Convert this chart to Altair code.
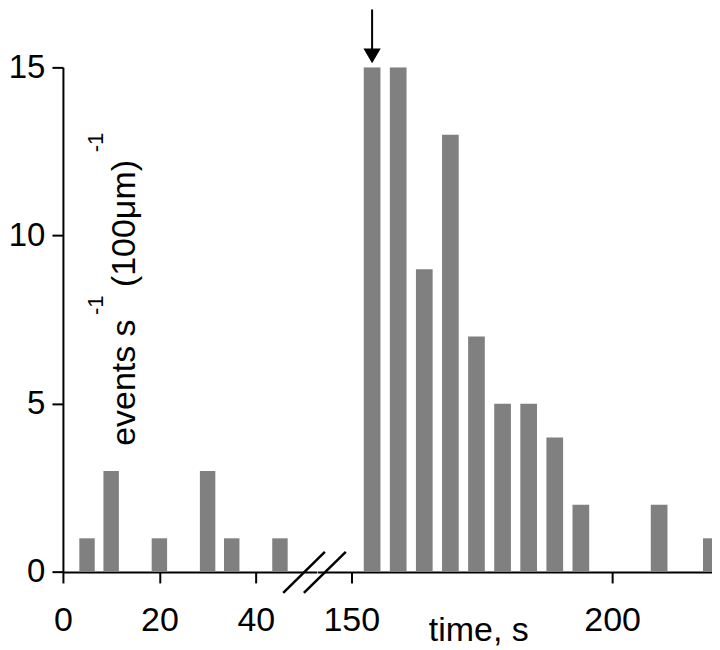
import altair as alt
import pandas as pd

# ---- data ----
left_time = [5, 10, 20, 30, 35, 45]
left_rate = [1, 3, 1, 3, 1, 1]
right_time = [154, 159, 164, 169, 174, 179, 184, 189, 194, 209, 219]
right_rate = [15, 15, 9, 13, 7, 5, 5, 4, 2, 2, 1]
left_ticks = [0, 20, 40]
right_ticks = [150, 200]
y_ticks = [0, 5, 10, 15]
left_domain = [0, 52.65]
right_domain = [143.55, 219.13]
y_domain = [0, 15]
bar_half_width = 1.6
marked_time = right_time[0]

FONT = "Liberation Sans"
BAR = "#808080"
H = 505.3
LW = 254.3
RW = 395

left_df = pd.DataFrame({"t": left_time, "rate": left_rate})
right_df = pd.DataFrame({"t": right_time, "rate": right_rate})
one = pd.DataFrame({"k": [0]})
arrow_df = pd.DataFrame({"t": [marked_time]})

yscale = alt.Scale(domain=y_domain, nice=False, zero=True)

axis_common = dict(
    labelFont=FONT, labelColor="black", tickColor="black", domainColor="black",
    tickWidth=2, domainWidth=2, tickSize=11, grid=False, labelFlush=False,
    labelOverlap=False,
)


def bars(df, xscale, xaxis, yaxis, clip):
    return (
        alt.Chart(df)
        .transform_calculate(t0=f"datum.t - {bar_half_width}", t1=f"datum.t + {bar_half_width}")
        .mark_bar(color=BAR, clip=clip)
        .encode(
            x=alt.X("t0:Q", scale=xscale, axis=xaxis),
            x2="t1:Q",
            y=alt.Y("rate:Q", scale=yscale, axis=yaxis),
            y2=alt.datum(0),
        )
    )


left_xaxis = alt.Axis(values=left_ticks, title=None, labelFontSize=34, labelPadding=21, **axis_common)
left_yaxis = alt.Axis(values=y_ticks, title=None, labelFontSize=33, labelPadding=7, **axis_common)
right_xaxis = alt.Axis(
    values=right_ticks, title="time, s", labelFontSize=34, labelPadding=21,
    titleFont=FONT, titleFontSize=34, titleFontWeight="normal", titleColor="black",
    titleX=161, titleY=69, titleAlign="center", titleBaseline="alphabetic", titleAnchor="start",
    **axis_common,
)

left_bars = bars(left_df, alt.Scale(domain=left_domain, nice=False, zero=False), left_xaxis, left_yaxis, False)
right_bars = bars(right_df, alt.Scale(domain=right_domain, nice=False, zero=False), right_xaxis, None, True)


def label(text, x, y, size):
    return alt.Chart(one).mark_text(
        text=text, angle=270, align="left", baseline="alphabetic",
        fontSize=size, font=FONT, color="black",
    ).encode(x=alt.value(x), y=alt.value(y))


ytitle = [
    label("events s", 72.3, 379, 34),
    label("-1", 40.3, 248, 22),
    label("(100\u03bcm)", 72.3, 220, 34),
    label("-1", 40.3, 85, 22),
]

slash1 = alt.Chart(one).mark_rule(color="black", strokeWidth=2.5).encode(
    x=alt.value(220.6), x2=alt.value(262.3), y=alt.value(526.3), y2=alt.value(485.3)
)
slash2 = alt.Chart(one).mark_rule(color="black", strokeWidth=2.5).encode(
    x=alt.value(241.3), x2=alt.value(283.3), y=alt.value(526.3), y2=alt.value(485.3)
)

left = alt.layer(left_bars, *ytitle, slash1, slash2).properties(width=LW, height=H)

shaft = alt.Chart(arrow_df).mark_rule(color="black", strokeWidth=2).encode(
    x=alt.X("t:Q"), y=alt.value(-58), y2=alt.value(-15)
)
head = alt.Chart(arrow_df).mark_point(
    shape="triangle-down", filled=True, color="black", size=300, opacity=1
).encode(x=alt.X("t:Q"), y=alt.value(-11.5))

right = alt.layer(right_bars, shaft, head).properties(width=RW, height=H)

chart = (
    alt.hconcat(left, right, spacing=0, bounds="flush")
    .properties(padding=0)
    .configure_view(stroke=None)
)

chart.save("out.html", embed_options={"renderer": "svg", "actions": False})
